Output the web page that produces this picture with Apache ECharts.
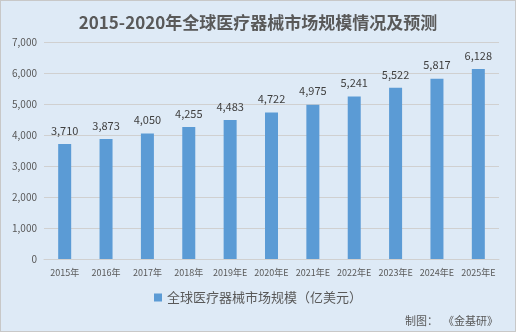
<!DOCTYPE html>
<html><head><meta charset="utf-8">
<script src="https://cdn.jsdelivr.net/npm/echarts@6/dist/echarts.min.js"></script>
<style>
html,body{margin:0;padding:0;background:#fff;}
#c{width:514px;height:330px;border:1px solid #c8c8c8;background:#DEEAF6;}
</style></head><body>
<div id="c"></div>
<script>
const categories = ['2015年','2016年','2017年','2018年','2019年E','2020年E','2021年E','2022年E','2023年E','2024年E','2025年E'];
const values = [3710,3873,4050,4255,4483,4722,4975,5241,5522,5817,6128];
const seriesName = '全球医疗器械市场规模（亿美元）';
const titleText = '2015-2020年全球医疗器械市场规模情况及预测';
const sourceText = '制图：  《金基研》';

const chart = echarts.init(document.getElementById('c'));
const font = '"Microsoft YaHei","Noto Sans CJK SC",sans-serif';
chart.setOption({
  backgroundColor: '#DEEAF6',
  textStyle: {fontFamily: font},
  title: {text: titleText, left: 'center', top: 8,
    textStyle: {fontSize: 17, fontWeight: 'bold', color: '#595959', fontFamily: font}},
  graphic: [{type: 'text', right: 17, top: 314,
    style: {text: sourceText, fontSize: 11, fill: '#595959', fontFamily: font}}],
  legend: {bottom: 22, left: 'center', itemWidth: 8, itemHeight: 8, icon: 'rect',
    textStyle: {fontSize: 13, color: '#595959'}},
  grid: {left: 43, right: 16, top: 41, bottom: 72, containLabel: false},
  xAxis: {type: 'category', data: categories,
    axisLine: {lineStyle: {color: '#D0D0D0'}}, axisTick: {show: false},
    axisLabel: {fontSize: 9, color: '#595959', margin: 9, interval: 0}},
  yAxis: {type: 'value', min: 0, max: 7000, interval: 1000,
    axisLine: {show: false}, axisTick: {show: false},
    splitLine: {lineStyle: {color: '#D0D0D0'}},
    axisLabel: {fontSize: 10, color: '#595959', margin: 7,
      formatter: v => v.toLocaleString('en-US')}},
  series: [{name: seriesName, type: 'bar', data: values, barWidth: 13,
    itemStyle: {color: '#5B9BD5'},
    label: {show: true, position: 'top', distance: 8, fontSize: 11, color: '#404040',
      formatter: p => p.value.toLocaleString('en-US')}}]
});
</script></body></html>
